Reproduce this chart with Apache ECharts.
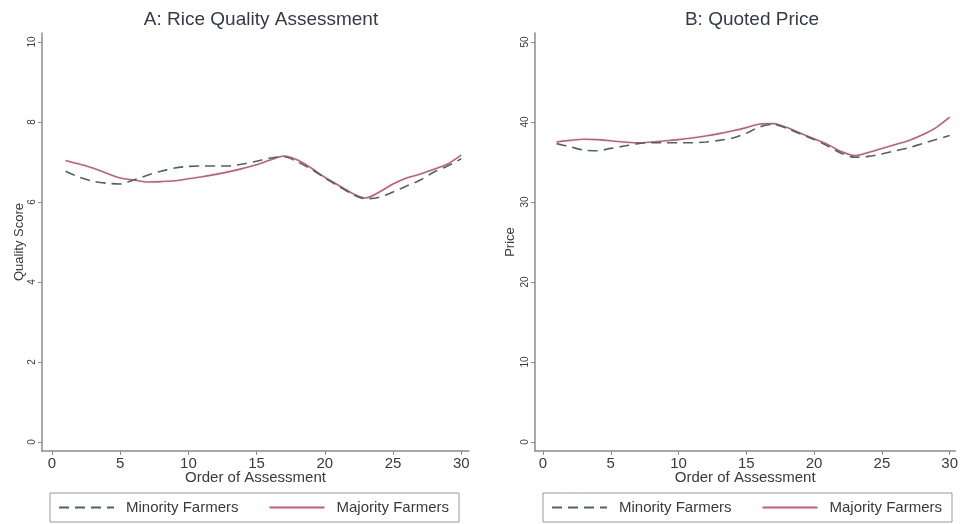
<!DOCTYPE html>
<html>
<head>
<meta charset="utf-8">
<script src="https://cdn.jsdelivr.net/npm/echarts@6/dist/echarts.min.js"></script>
<style>
  html, body { margin: 0; padding: 0; background: #fff; }
  #chart { width: 961px; height: 524px; }
</style>
</head>
<body>
<div id="chart"></div>
<script>
// Order in which each rice sample was assessed
const order = [1,2,3,4,5,6,7,8,9,10,11,12,13,14,15,16,17,18,19,20,21,22,23,24,25,26,27,28,29,30];

// Panel A: smoothed quality score
const qualityMinority = [6.77,6.62,6.52,6.47,6.45,6.55,6.67,6.77,6.85,6.89,6.9,6.9,6.9,6.95,7.02,7.1,7.13,7.0,6.82,6.6,6.4,6.2,6.08,6.12,6.25,6.4,6.55,6.75,6.9,7.08];
const qualityMajority = [7.04,6.95,6.85,6.72,6.6,6.55,6.5,6.51,6.53,6.58,6.63,6.69,6.76,6.84,6.93,7.05,7.15,7.05,6.85,6.62,6.42,6.22,6.1,6.25,6.45,6.6,6.7,6.82,6.95,7.17];

// Panel B: smoothed quoted price
const priceMinority = [37.3,36.9,36.5,36.4,36.7,37.0,37.3,37.4,37.4,37.4,37.4,37.5,37.7,38.0,38.6,39.4,39.7,39.2,38.5,37.8,37.0,36.1,35.6,35.7,36.0,36.4,36.8,37.3,37.8,38.3];
const priceMajority = [37.5,37.7,37.85,37.8,37.65,37.5,37.4,37.5,37.65,37.8,38.0,38.25,38.55,38.9,39.3,39.75,39.8,39.3,38.6,37.9,37.2,36.3,35.8,36.2,36.7,37.2,37.7,38.4,39.3,40.6];

// Tick labels
const xTicks = [0,5,10,15,20,25,30];
const qualityTicks = [0,2,4,6,8,10];
const priceTicks = [0,10,20,30,40,50];

const minorityColor = '#4f665c';
const majorityColor = '#c85a70';
const axisColor = '#8c8c8c';
const textColor = '#3a3a3a';
const font = 'Liberation Sans, Arial, sans-serif';

const pairs = (xs, ys) => xs.map((x, i) => [x, ys[i]]);

function xAxisFor(gridIndex, min, max) {
  return {
    type: 'value', gridIndex, min, max,
    name: 'Order of Assessment', nameLocation: 'middle', nameGap: 19, nameMoveOverlap: false,
    nameTextStyle: { color: textColor, fontSize: 15, fontFamily: font, verticalAlign: 'top' },
    axisLine: { show: true, onZero: false, lineStyle: { color: axisColor, width: 1.5 } },
    axisTick: { show: true, length: 4, customValues: xTicks, lineStyle: { color: axisColor } },
    axisLabel: { customValues: xTicks, color: textColor, fontSize: 15, fontFamily: font, margin: 5 },
    splitLine: { show: false }
  };
}

function yAxisFor(gridIndex, min, max, ticks, name, gap) {
  return {
    type: 'value', gridIndex, min, max,
    name, nameLocation: 'middle', nameGap: gap,
    nameTextStyle: { color: textColor, fontSize: 13, fontFamily: font },
    axisLine: { show: true, onZero: false, lineStyle: { color: axisColor, width: 1.5 } },
    axisTick: { show: true, length: 4, customValues: ticks, lineStyle: { color: axisColor } },
    axisLabel: { customValues: ticks, rotate: 90, color: textColor, fontSize: 10, fontFamily: font, margin: 5 },
    splitLine: { show: false }
  };
}

function lineSeries(name, data, xi, color, dashed) {
  return {
    type: 'line', name, data, xAxisIndex: xi, yAxisIndex: xi,
    showSymbol: false, symbol: 'none', smooth: 0.3,
    lineStyle: { color, width: 1.6, type: dashed ? [10, 6] : 'solid' },
    itemStyle: { color },
    z: dashed ? 3 : 2
  };
}

function legendAt(left) {
  return {
    left, top: 493, width: 413,
    orient: 'horizontal',
    itemWidth: 55, itemHeight: 12, itemGap: 30,
    padding: [7, 10, 7, 8],
    borderColor: '#999', borderWidth: 1,
    itemStyle: { color: 'transparent', borderColor: 'transparent', borderWidth: 0 },
    textStyle: { color: textColor, fontSize: 15, fontFamily: font, padding: [0, 0, 0, 7] },
    data: ['Minority Farmers', 'Majority Farmers'],
    selectedMode: false
  };
}

const chart = echarts.init(document.getElementById('chart'), null, { renderer: 'canvas' });
chart.setOption({
  backgroundColor: '#fff',
  animation: false,
  title: [
    { text: 'A: Rice Quality Assessment', left: 256, top: 5, textAlign: 'center',
      textStyle: { color: '#353a4a', fontSize: 19, fontWeight: 'normal', fontFamily: font } },
    { text: 'B: Quoted Price', left: 747, top: 5, textAlign: 'center',
      textStyle: { color: '#353a4a', fontSize: 19, fontWeight: 'normal', fontFamily: font } }
  ],
  legend: [legendAt(50), legendAt(543)],
  grid: [
    { left: 42, top: 33, width: 427, height: 418 },
    { left: 535, top: 33, width: 423, height: 418 }
  ],
  xAxis: [xAxisFor(0, -0.73, 30.57), xAxisFor(1, -0.59, 30.42)],
  yAxis: [
    yAxisFor(0, -0.225, 10.225, qualityTicks, 'Quality Score', 16),
    yAxisFor(1, -1.125, 51.125, priceTicks, 'Price', 18)
  ],
  series: [
    lineSeries('Minority Farmers', pairs(order, qualityMinority), 0, minorityColor, true),
    lineSeries('Majority Farmers', pairs(order, qualityMajority), 0, majorityColor, false),
    lineSeries('Minority Farmers', pairs(order, priceMinority), 1, minorityColor, true),
    lineSeries('Majority Farmers', pairs(order, priceMajority), 1, majorityColor, false)
  ]
});
</script>
</body>
</html>
